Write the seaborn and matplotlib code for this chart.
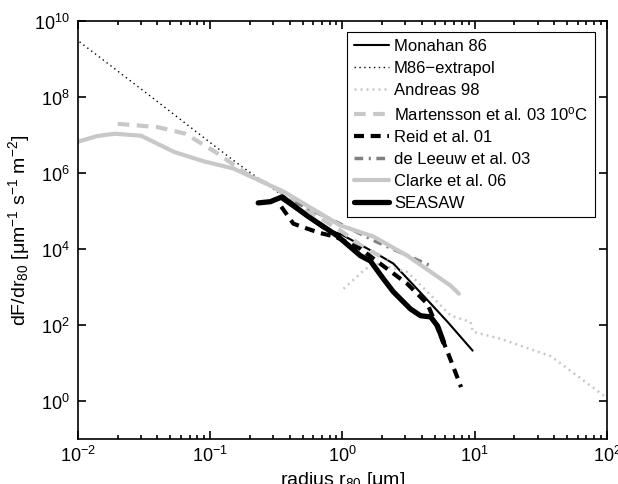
import numpy as np
import matplotlib
matplotlib.use("Agg")
import matplotlib.pyplot as plt
import matplotlib.ticker as mticker
import seaborn as sns

# radius r80 [um] and flux dF/dr80
m86_r = [0.0103, 0.035, 0.1, 0.155, 0.357]
m86_f = [2.8e9, 1.07e8, 6.3e6, 1.95e6, 2.45e5]

monahan_r = [0.34, 0.72, 0.97, 1.72, 2.43, 4.11, 6.24, 9.66]
monahan_f = [2.1e5, 3.4e4, 2.45e4, 8.3e3, 4.1e3, 5.8e2, 1.2e2, 21]

andreas_r = [1.02, 1.5, 1.85, 3.1, 4.4, 6.6, 9.3, 9.7, 15.7, 37.7, 100]
andreas_f = [890, 3000, 4000, 2450, 740, 174, 120, 66, 43, 15, 1.2]

martensson_r = [0.02, 0.04, 0.065, 0.11, 0.19, 0.3, 0.5, 1.0, 1.5, 2.2]
martensson_f = [1.95e7, 1.6e7, 1.07e7, 3.5e6, 9.3e5, 4.3e5, 1.26e5, 2.8e4, 1.0e4, 5.2e3]

reid_r = [0.345, 0.426, 0.543, 0.681, 0.885, 1.37, 2.05, 3.1, 4.4, 6.24, 7.9]
reid_f = [1.29e5, 4.6e4, 3.4e4, 2.6e4, 2.1e4, 1.0e4, 3.5e3, 1.2e3, 355, 19.5, 2.3]

deleeuw_r = [0.44, 0.86, 1.84, 4.8]
deleeuw_f = [1.7e5, 5.5e4, 1.5e4, 3.4e3]

clarke_r = [0.01, 0.014, 0.019, 0.03, 0.054, 0.09, 0.15, 0.36, 0.97, 1.72, 3.1, 6.6, 7.6]
clarke_f = [6.6e6, 9.3e6, 1.07e7, 9.5e6, 3.5e6, 2.0e6, 1.3e6, 3.2e5, 4.1e4, 2.1e4, 6.6e3, 1.07e3, 660]

seasaw_r = [0.231, 0.285, 0.351, 0.543, 0.916, 1.37, 1.63, 2.05, 2.43, 3.27, 3.9, 4.65, 5.25, 5.82]
seasaw_f = [1.62e5, 1.74e5, 2.34e5, 7.4e4, 2.2e4, 6.6e3, 4.8e3, 1.6e3, 740, 263, 174, 162, 93, 35]

sns.set_style("ticks")
plt.rcParams["font.family"] = ["Liberation Sans", "DejaVu Sans"]
plt.rcParams["mathtext.default"] = "regular"
plt.rcParams["font.size"] = 12
for key in ["text.color", "axes.labelcolor", "xtick.color", "ytick.color", "axes.edgecolor"]:
    plt.rcParams[key] = "black"

fig = plt.figure(figsize=(6.18, 4.85), dpi=100)
ax = fig.add_axes([0.126, 0.093, 0.856, 0.862])

light = "#c8c8c8"
series = [
    (monahan_r, monahan_f, "Monahan 86", "black", 1.5, "-"),
    (m86_r, m86_f, "M86\u2212extrapol", "black", 1.0, (0, (1, 2.5))),
    (andreas_r, andreas_f, "Andreas 98", light, 1.8, (0, (0.8, 1.6))),
    (martensson_r, martensson_f, "Martensson et al. 03 10$^o$C", light, 3.0, (0, (2.8, 1.8))),
    (reid_r, reid_f, "Reid et al. 01", "black", 3.0, (0, (2.4, 1.6))),
    (deleeuw_r, deleeuw_f, "de Leeuw et al. 03", "#808080", 2.5, (0, (2.5, 1.6, 0.6, 1.6))),
    (clarke_r, clarke_f, "Clarke et al. 06", light, 3.0, "-"),
    (seasaw_r, seasaw_f, "SEASAW", "black", 3.8, "-"),
]
for r, f, name, col, lw, ls in series:
    sns.lineplot(x=r, y=f, ax=ax, sort=False, estimator=None, color=col,
                 lw=lw, linestyle=ls, label=name)

ax.set_xscale("log")
ax.set_yscale("log")
ax.set_xlim(1e-2, 1e2)
ax.set_ylim(1e-1, 1e10)
ax.set_yticks([1e0, 1e2, 1e4, 1e6, 1e8, 1e10])
ax.yaxis.set_minor_locator(mticker.NullLocator())
ax.xaxis.set_minor_locator(mticker.LogLocator(base=10, subs=np.arange(2, 10)))
ax.tick_params(which="both", direction="in", top=True, right=True, width=1.2)
ax.tick_params(which="major", length=6, labelsize=13)
ax.tick_params(axis="x", which="major", pad=4)
ax.tick_params(axis="y", which="major", pad=6)
ax.tick_params(which="minor", length=3)
for s in ax.spines.values():
    s.set_linewidth(1.2)

ax.set_xlabel("radius r$_{80}$ [\u03bcm]", fontsize=14, labelpad=3)
ax.set_ylabel("dF/dr$_{80}$ [\u03bcm$^{-1}$ s$^{-1}$ m$^{-2}$]", fontsize=14, labelpad=1)

leg = ax.legend(loc="upper right", bbox_to_anchor=(0.977, 0.974), borderaxespad=0,
                fancybox=False, edgecolor="black", framealpha=1, fontsize=12,
                handlelength=2.1, labelspacing=0.42, handletextpad=0.3)
leg.get_frame().set_linewidth(0.8)

fig.savefig("out.png", dpi=100)
